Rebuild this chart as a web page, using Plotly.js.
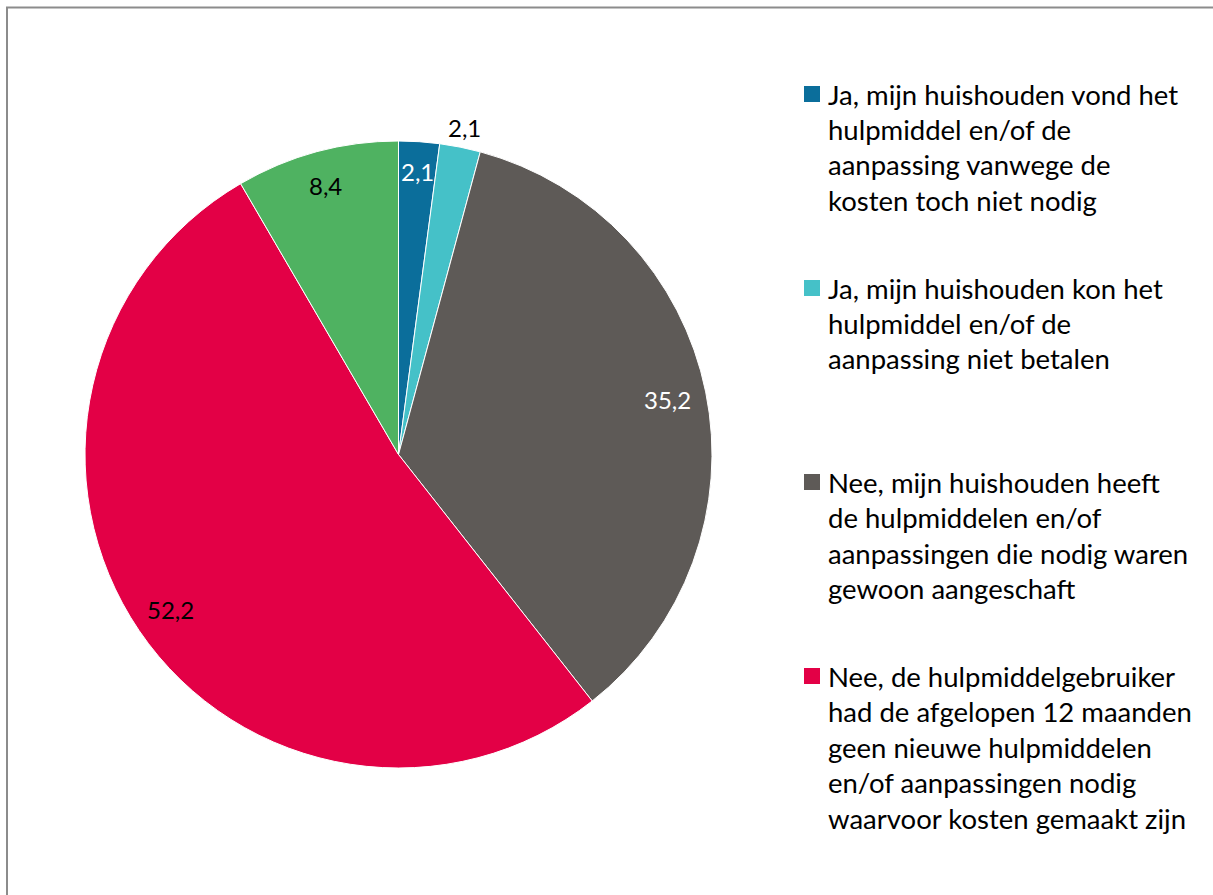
<!DOCTYPE html>
<html>
<head>
<meta charset="utf-8">
<script src="https://cdn.plot.ly/plotly-3.0.1.min.js"></script>
<style>
html,body{margin:0;padding:0;background:#fff;}
#chart{width:1213px;height:895px;}
</style>
</head>
<body>
<div id="chart"></div>
<script>
// ---- data ----
var categories = [
  "Ja, mijn huishouden vond het hulpmiddel en/of de aanpassing vanwege de kosten toch niet nodig",
  "Ja, mijn huishouden kon het hulpmiddel en/of de aanpassing niet betalen",
  "Nee, mijn huishouden heeft de hulpmiddelen en/of aanpassingen die nodig waren gewoon aangeschaft",
  "Nee, de hulpmiddelgebruiker had de afgelopen 12 maanden geen nieuwe hulpmiddelen en/of aanpassingen nodig waarvoor kosten gemaakt zijn",
  "Weet ik niet"
];
var values = [2.1, 2.1, 35.2, 52.2, 8.4];
var legendLines = [
  ["Ja, mijn huishouden vond het", "hulpmiddel en/of de", "aanpassing vanwege de", "kosten toch niet nodig"],
  ["Ja, mijn huishouden kon het", "hulpmiddel en/of de", "aanpassing niet betalen"],
  ["Nee, mijn huishouden heeft", "de hulpmiddelen en/of", "aanpassingen die nodig waren", "gewoon aangeschaft"],
  ["Nee, de hulpmiddelgebruiker", "had de afgelopen 12 maanden", "geen nieuwe hulpmiddelen", "en/of aanpassingen nodig", "waarvoor kosten gemaakt zijn"]
];
var colors = ["#0B6E9B", "#45C1C8", "#5E5A57", "#E30046", "#4FB261"];
var labelColors = ["#FFFFFF", "#000000", "#FFFFFF", "#000000", "#000000"];
var labelRadius = [0.905, 1.065, 0.875, 0.88, 0.89];

// ---- layout geometry ----
var W = 1213, H = 895;
var cx = 398.5, cy = 454.5, R = 313.5;
var FONT = "Lato, 'Open Sans', sans-serif";

function fmt(v){ return v.toFixed(1).replace(".", ","); }

var annotations = [];
var total = values.reduce(function(a,b){return a+b;}, 0);
var cum = 0;
values.forEach(function(v, i){
  var mid = (cum + v/2) / total * 2*Math.PI;
  cum += v;
  var r = R * labelRadius[i];
  var px = cx + r*Math.sin(mid), py = cy - r*Math.cos(mid);
  annotations.push({
    xref:"paper", yref:"paper", x:px/W, y:1-py/H,
    xanchor:"center", yanchor:"middle", showarrow:false,
    text: fmt(v), font:{family:FONT, size:24, color:labelColors[i]}
  });
});

var shapes = [];
// border (left and top edges visible)
shapes.push({type:"line", xref:"paper", yref:"paper", x0:7/W, x1:7/W, y0:0, y1:1-7/H, line:{color:"#8C8C8C", width:2}});
shapes.push({type:"line", xref:"paper", yref:"paper", x0:6/W, x1:1, y0:1-7.5/H, y1:1-7.5/H, line:{color:"#8C8C8C", width:2}});

// custom legend (first four entries are visible)
var legX = 804, legTextX = 826, legY0 = 94, legStep = 194, lineH = 35.5, sq = 16;
legendLines.forEach(function(lines, k){
  var y = legY0 + k*legStep;
  shapes.push({type:"rect", xref:"paper", yref:"paper",
    x0:legX/W, x1:(legX+sq)/W, y0:1-(y-sq/2)/H, y1:1-(y+sq/2)/H,
    fillcolor:colors[k], line:{width:0}});
  lines.forEach(function(t, j){
    annotations.push({xref:"paper", yref:"paper", x:legTextX/W, y:1-(y + j*lineH)/H,
      xanchor:"left", yanchor:"middle", showarrow:false, text:t,
      font:{family:FONT, size:27.5, color:"#000000"}});
  });
});

var trace = {
  type:"pie",
  labels: categories,
  values: values,
  sort:false,
  direction:"clockwise",
  rotation:0,
  textinfo:"none",
  hoverinfo:"label+value",
  marker:{colors:colors, line:{color:"#FFFFFF", width:1}},
  domain:{x:[(cx-R)/W, (cx+R)/W], y:[1-(cy+R)/H, 1-(cy-R)/H]}
};

var layout = {
  width:W, height:H,
  margin:{l:0, r:0, t:0, b:0},
  showlegend:false,
  paper_bgcolor:"#FFFFFF",
  annotations: annotations,
  shapes: shapes
};

Plotly.newPlot("chart", [trace], layout, {displayModeBar:false, staticPlot:true});
</script>
</body>
</html>
